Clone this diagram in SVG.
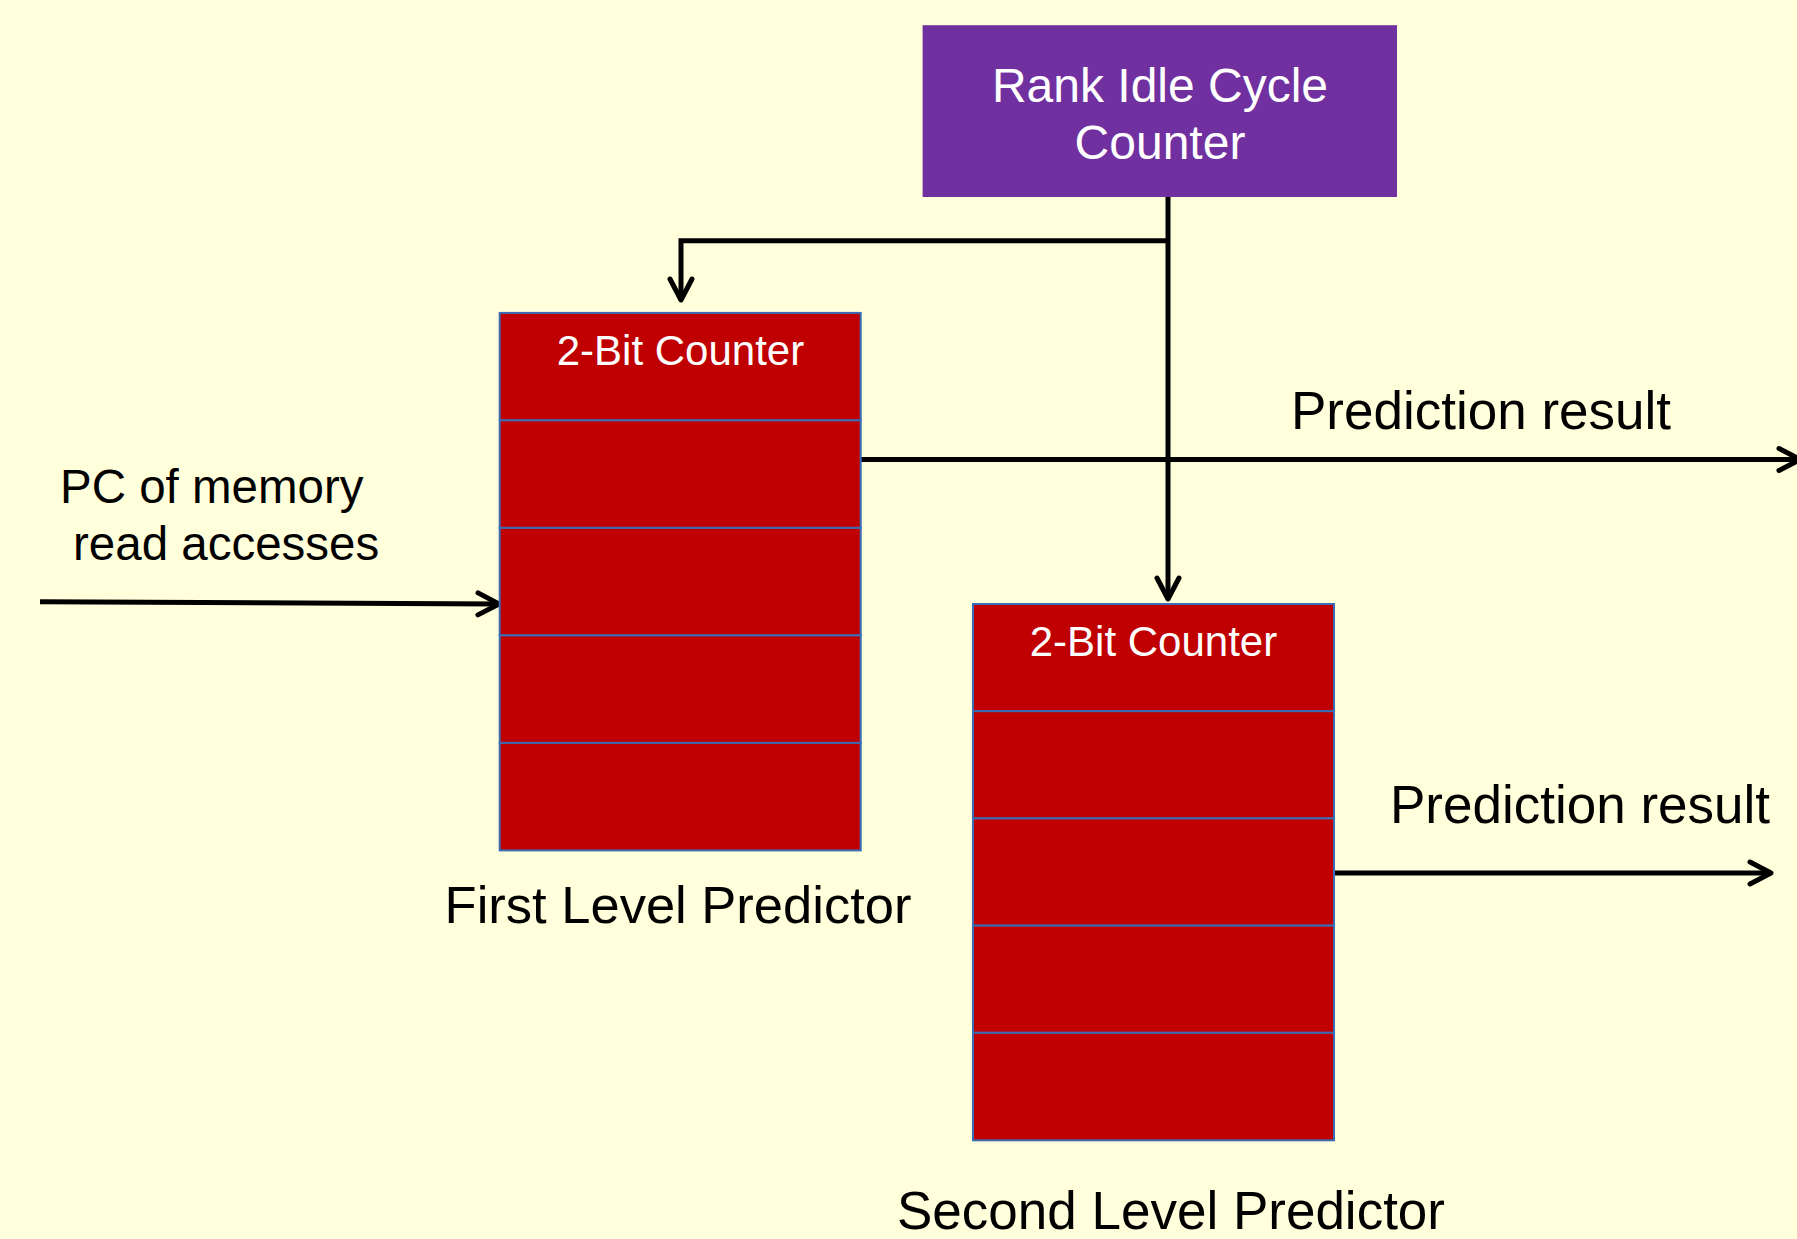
<svg xmlns="http://www.w3.org/2000/svg" width="1797" height="1239" viewBox="0 0 1797 1239">
  <style>
    .bg { fill: #FFFFDB; }
    .purple { fill: #7030A0; }
    .cell { fill: #C00000; stroke: #3A6DB5; stroke-width: 2; }
    .t { font-family: "Liberation Sans", Arial, sans-serif; }
    .white { fill: #FFFFFF; }
    .black { fill: #000000; }
    .conn { fill: none; stroke: #000000; stroke-width: 5; stroke-linejoin: miter; }
  </style>
  <defs>
    <marker id="arr" markerUnits="userSpaceOnUse" viewBox="-26 -15 30 30" markerWidth="30" markerHeight="30" refX="0" refY="0" orient="auto" overflow="visible">
      <path d="M-21,-11 L0,0 L-21,11" fill="none" stroke="#000000" stroke-width="5" stroke-linecap="round" stroke-linejoin="round"/>
    </marker>
  </defs>
  <rect class="bg" x="0" y="0" width="1797" height="1239"/>

  <g id="connectors">
    <path class="conn" d="M1168,197 L1168,599" marker-end="url(#arr)"/>
    <path class="conn" d="M1168,240.7 L681,240.7 L681,300" marker-end="url(#arr)"/>
    <path class="conn" d="M40,601.7 L499,604" marker-end="url(#arr)"/>
    <path class="conn" d="M861,459.5 L1800,459.5" marker-end="url(#arr)"/>
    <path class="conn" d="M1334,873 L1771,873" marker-end="url(#arr)"/>
  </g>

  <g id="rank-idle-cycle-counter">
    <rect class="purple" x="922.6" y="25.2" width="474.4" height="171.8"/>
    <text class="t white" x="1160" y="102" font-size="48" text-anchor="middle">Rank Idle Cycle</text>
    <text class="t white" x="1160" y="158.5" font-size="48" text-anchor="middle">Counter</text>
  </g>

  <g id="first-level-predictor">
    <rect class="cell" x="499.7" y="312.9" width="361" height="107.5"/>
    <rect class="cell" x="499.7" y="420.4" width="361" height="107.5"/>
    <rect class="cell" x="499.7" y="527.9" width="361" height="107.5"/>
    <rect class="cell" x="499.7" y="635.4" width="361" height="107.5"/>
    <rect class="cell" x="499.7" y="742.9" width="361" height="107.5"/>
    <text class="t white" x="680.5" y="365" font-size="42" text-anchor="middle">2-Bit Counter</text>
  </g>

  <g id="second-level-predictor">
    <rect class="cell" x="973" y="604" width="361" height="107.2"/>
    <rect class="cell" x="973" y="711.2" width="361" height="107.2"/>
    <rect class="cell" x="973" y="818.4" width="361" height="107.2"/>
    <rect class="cell" x="973" y="925.6" width="361" height="107.2"/>
    <rect class="cell" x="973" y="1032.8" width="361" height="107.5"/>
    <text class="t white" x="1153.5" y="655.5" font-size="42" text-anchor="middle">2-Bit Counter</text>
  </g>

  <g id="labels">
    <text class="t black" x="60" y="503" font-size="47.5">PC of memory</text>
    <text class="t black" x="73" y="560" font-size="47.5">read accesses</text>
    <text class="t black" x="1291" y="429" font-size="53">Prediction result</text>
    <text class="t black" x="1390" y="823.3" font-size="53">Prediction result</text>
    <text class="t black" x="678" y="922.5" font-size="52.5" text-anchor="middle">First Level Predictor</text>
    <text class="t black" x="1171" y="1229" font-size="53" text-anchor="middle">Second Level Predictor</text>
  </g>
</svg>
